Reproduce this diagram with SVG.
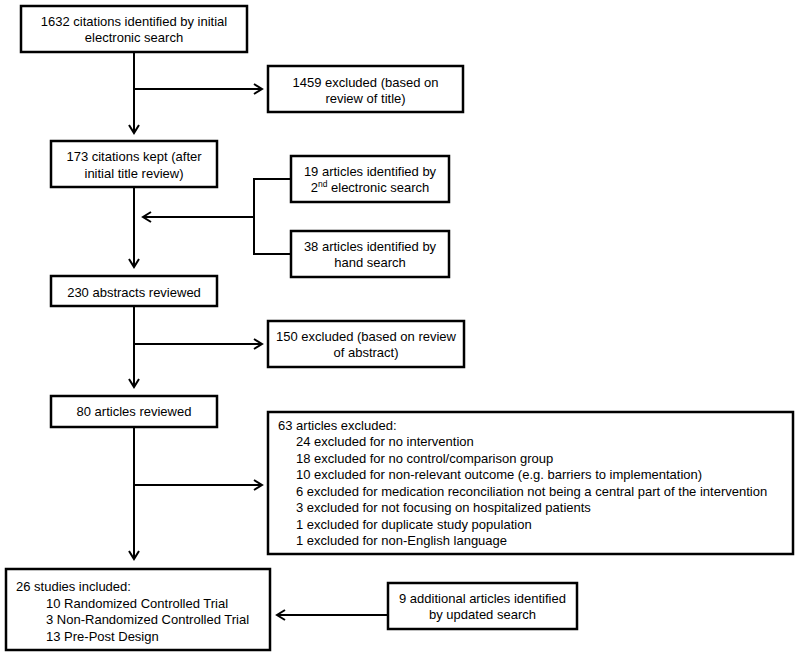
<svg xmlns="http://www.w3.org/2000/svg" width="800" height="658" viewBox="0 0 800 658">
<style>
.box{fill:#fff;stroke:#000;stroke-width:2.5}
.t{font-family:"Liberation Sans",Arial,sans-serif;font-size:13px;fill:#000}
.c{text-anchor:middle}
.ln{fill:none;stroke:#000;stroke-width:2}
</style>
<defs>
<marker id="arr" viewBox="0 0 12 12" refX="10" refY="6" markerWidth="12" markerHeight="12" markerUnits="userSpaceOnUse" orient="auto">
<path d="M2,1 L10,6 L2,11" fill="none" stroke="#000" stroke-width="2"/>
</marker>
</defs>
<rect width="800" height="658" fill="#fff"/>
<g id="connectors">
<path class="ln" d="M134,52 V133" marker-end="url(#arr)"/>
<path class="ln" d="M134,89 H262" marker-end="url(#arr)"/>
<path class="ln" d="M134,187 V267" marker-end="url(#arr)"/>
<path class="ln" d="M291,179 H254 V254 H291"/>
<path class="ln" d="M254,217 H143" marker-end="url(#arr)"/>
<path class="ln" d="M134,306 V387" marker-end="url(#arr)"/>
<path class="ln" d="M134,344 H262" marker-end="url(#arr)"/>
<path class="ln" d="M134,427 V559" marker-end="url(#arr)"/>
<path class="ln" d="M134,485 H262" marker-end="url(#arr)"/>
<path class="ln" d="M388,615 H277" marker-end="url(#arr)"/>
</g>
<g id="n1">
<rect class="box" x="21" y="6" width="226" height="46"/>
<text class="t c" x="134" y="26">1632 citations identified by initial</text>
<text class="t c" x="134" y="42">electronic search</text>
</g>
<g id="n2">
<rect class="box" x="268" y="66" width="195" height="46"/>
<text class="t c" x="365.5" y="86.5">1459 excluded (based on</text>
<text class="t c" x="365.5" y="103">review of title)</text>
</g>
<g id="n3">
<rect class="box" x="51" y="141" width="166" height="46"/>
<text class="t c" x="134" y="161">173 citations kept (after</text>
<text class="t c" x="134" y="178">initial title review)</text>
</g>
<g id="n4">
<rect class="box" x="291" y="156" width="158" height="46"/>
<text class="t c" x="370" y="176">19 articles identified by</text>
<text class="t c" x="370" y="192">2<tspan font-size="8.5" dy="-5">nd</tspan><tspan dy="5"> electronic search</tspan></text>
</g>
<g id="n5">
<rect class="box" x="291" y="231" width="158" height="46"/>
<text class="t c" x="370" y="251">38 articles identified by</text>
<text class="t c" x="370" y="267">hand search</text>
</g>
<g id="n6">
<rect class="box" x="51" y="276" width="166" height="30"/>
<text class="t c" x="134" y="297">230 abstracts reviewed</text>
</g>
<g id="n7">
<rect class="box" x="268" y="321" width="196" height="46"/>
<text class="t c" x="366" y="340.5">150 excluded (based on review</text>
<text class="t c" x="366" y="357">of abstract)</text>
</g>
<g id="n8">
<rect class="box" x="51" y="396" width="166" height="31"/>
<text class="t c" x="134" y="415.5">80 articles reviewed</text>
</g>
<g id="n9">
<rect class="box" x="268" y="412" width="525" height="142"/>
<text class="t" x="278" y="429.5">63 articles excluded:</text>
<text class="t" x="296" y="446">24 excluded for no intervention</text>
<text class="t" x="296" y="462.5">18 excluded for no control/comparison group</text>
<text class="t" x="296" y="479">10 excluded for non-relevant outcome (e.g. barriers to implementation)</text>
<text class="t" x="296" y="495.5">6 excluded for medication reconciliation not being a central part of the intervention</text>
<text class="t" x="296" y="512">3 excluded for not focusing on hospitalized patients</text>
<text class="t" x="296" y="528.5">1 excluded for duplicate study population</text>
<text class="t" x="296" y="545">1 excluded for non-English language</text>
</g>
<g id="n10">
<rect class="box" x="6" y="569" width="264" height="81"/>
<text class="t" x="16" y="591">26 studies included:</text>
<text class="t" x="46" y="607.5">10 Randomized Controlled Trial</text>
<text class="t" x="46" y="624">3 Non-Randomized Controlled Trial</text>
<text class="t" x="46" y="640.5">13 Pre-Post Design</text>
</g>
<g id="n11">
<rect class="box" x="388" y="583" width="189" height="46"/>
<text class="t c" x="482.5" y="602.5">9 additional articles identified</text>
<text class="t c" x="482.5" y="619">by updated search</text>
</g>
</svg>
